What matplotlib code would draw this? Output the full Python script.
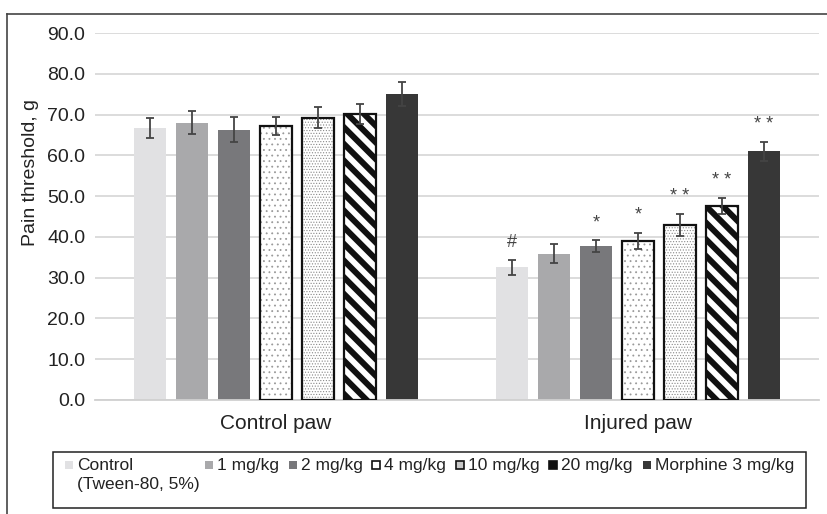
import matplotlib
matplotlib.use('Agg')
import matplotlib.pyplot as plt
import numpy as np
from matplotlib.patches import Rectangle
from matplotlib.lines import Line2D

plt.rcParams['font.family'] = ['Liberation Sans', 'DejaVu Sans']

# 数据
groups = ['Control paw', 'Injured paw']
series_labels = ['Control\n(Tween-80, 5%)', '1 mg/kg', '2 mg/kg', '4 mg/kg',
                 '10 mg/kg', '20 mg/kg', 'Morphine 3 mg/kg']
control_paw = [66.7, 68.0, 66.3, 67.1, 69.2, 70.2, 75.1]
control_paw_err = [2.5, 2.8, 3.1, 2.2, 2.6, 2.4, 3.0]
injured_paw = [32.5, 35.9, 37.7, 39.0, 42.9, 47.6, 61.0]
injured_paw_err = [1.8, 2.3, 1.5, 2.0, 2.6, 2.0, 2.3]
injured_marks = ['#', '', '*', '*', '* *', '* *', '* *']
y_ticks = [0, 10, 20, 30, 40, 50, 60, 70, 80, 90]

# 每组柱子的样式
styles = [
    dict(color='#e1e1e3', hatch=None, edge=None, hlw=1.0, legend='#e1e1e3'),
    dict(color='#a9a9ab', hatch=None, edge=None, hlw=1.0, legend='#a9a9ab'),
    dict(color='#78787b', hatch=None, edge=None, hlw=1.0, legend='#78787b'),
    dict(color='white', hatch='...', hcolor='#9a9a9a', edge='#111111', hlw=0.6, legend='white'),
    dict(color='white', hatch='......', hcolor='#8a8a8a', edge='#111111', hlw=0.5, legend='#c8c8c8'),
    dict(color='white', hatch='\\\\', hcolor='#111111', edge='#111111', hlw=4.3, legend='#111111'),
    dict(color='#373737', hatch=None, edge=None, hlw=1.0, legend='#373737'),
]

W, H = 828, 514
fig = plt.figure(figsize=(W / 100, H / 100), dpi=100)


def fx(px):
    return px / W


def fy(py):
    return 1 - py / H


ax = fig.add_axes([fx(95), fy(400), fx(819) - fx(95), fy(33) - fy(400)])

x = np.arange(len(groups))
step = 42 / 362
width = 32 / 362
values = np.array([control_paw, injured_paw])
errors = np.array([control_paw_err, injured_paw_err])


def styled_bar(target, xs, heights, st, w):
    if st['hatch'] is None:
        return target.bar(xs, heights, w, color=st['color'], linewidth=0, zorder=2)
    with plt.rc_context({'hatch.linewidth': st['hlw']}):
        bars = target.bar(xs, heights, w, color=st['color'], edgecolor=st['hcolor'],
                          hatch=st['hatch'], linewidth=0, zorder=2)
    for b in bars:
        if hasattr(b, 'set_hatch_linewidth'):
            b.set_hatch_linewidth(st['hlw'])
    target.bar(xs, heights, w, facecolor='none', edgecolor=st['edge'],
               linewidth=1.6, zorder=3)
    return bars


for i, st in enumerate(styles):
    xs = x + (i - 3) * step
    styled_bar(ax, xs, values[:, i], st, width)
    ax.errorbar(xs, values[:, i], yerr=errors[:, i], fmt='none', ecolor='#444444',
                elinewidth=1.3, capsize=3.2, capthick=1.3, zorder=4)
    mark = injured_marks[i]
    if mark:
        ax.text(xs[1], injured_paw[i] + injured_paw_err[i] + 3.2, mark,
                ha='center', va='baseline', fontsize=13, color='#444444', zorder=5)

ax.set_ylim(0, 90)
ax.set_xlim(-0.5, 1.5)
ax.set_yticks(y_ticks)
ax.set_yticklabels([f'{v:.1f}' for v in y_ticks])
ax.set_xticks(x)
ax.set_xticklabels(groups)
ax.tick_params(axis='y', length=0, pad=7, labelsize=14, labelcolor='#222222')
ax.tick_params(axis='x', length=0, pad=10, labelsize=15, labelcolor='#222222')
ax.grid(axis='y', color='#d9d9d9', linewidth=1.3, zorder=0)
ax.set_axisbelow(True)
for s in ['top', 'right', 'left']:
    ax.spines[s].set_visible(False)
ax.spines['bottom'].set_color('#d0d0d0')
ax.spines['bottom'].set_linewidth(1.3)
ax.set_ylabel('Pain threshold, g', fontsize=14, color='#222222')
ax.yaxis.set_label_coords(-0.077, 0.62)

# 外框
fig.add_artist(Line2D([fx(7), fx(7)], [fy(14), -0.05], color='#444444', linewidth=1.2))
fig.add_artist(Line2D([fx(7), 1.05], [fy(14), fy(14)], color='#444444', linewidth=1.2))

# 图例
fig.add_artist(Rectangle((fx(53), fy(508)), fx(806) - fx(53), fy(452) - fy(508),
                         transform=fig.transFigure, facecolor='white',
                         edgecolor='#222222', linewidth=1.1))
legend_x = [65, 205, 289, 372, 456, 549, 643]
for i, st in enumerate(styles):
    lx = legend_x[i]
    hx, hy, hw, hh = fx(lx), fy(469), fx(8), fy(461) - fy(469)
    face = st['legend']
    fig.add_artist(Rectangle((hx, hy), hw, hh, transform=fig.transFigure,
                             facecolor=face, edgecolor=st['edge'] or face,
                             linewidth=1.2 if st['edge'] else 0))
    fig.text(fx(lx + 12), fy(458), series_labels[i], ha='left', va='top',
             fontsize=12.5, color='#222222', linespacing=1.3)

fig.savefig('out.png', dpi=100)
